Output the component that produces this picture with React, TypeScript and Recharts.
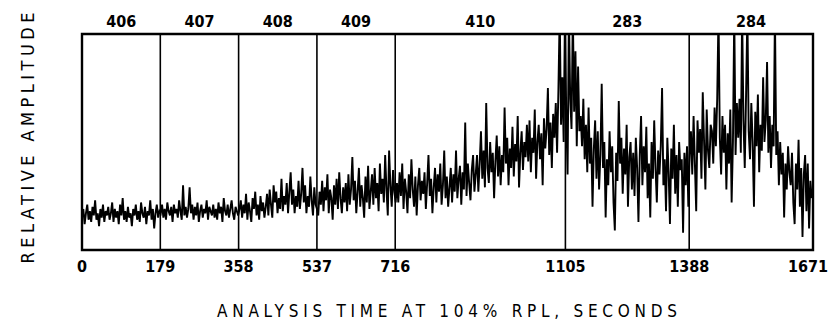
import { LineChart, Line, XAxis, YAxis, ReferenceLine, ReferenceArea } from "recharts";

// run boundaries (seconds) and the run numbers shown above each segment
const boundaries = [0, 179, 358, 537, 716, 1105, 1388, 1671];
const runs = ["406", "407", "408", "409", "410", "283", "284"];

// amplitude trace, one reading every 3 s (0-100 = bottom-top of box)
const sampleStep = 3;
const amplitude = [
  15, 19, 12, 17, 21, 14, 18, 13, 20, 16, 23, 14, 17, 11, 19, 15, 21, 13, 18, 16,
  20, 14, 17, 22, 13, 19, 15, 18, 12, 21, 16, 24, 14, 18, 13, 20, 15, 17, 11, 19,
  16, 21, 14, 18, 13, 22, 17, 15, 20, 12, 18, 16, 23, 14, 19, 10, 17, 21, 15, 18,
  17, 21, 15, 19, 14, 22, 18, 16, 20, 13, 21, 17, 19, 15, 23, 18, 14, 30, 16, 20,
  15, 19, 29, 17, 21, 14, 20, 16, 22, 13, 18, 21, 15, 19, 17, 23, 14, 20, 18, 16,
  21, 15, 19, 14, 22, 17, 20, 13, 24, 18, 16, 21, 15, 19, 23, 17, 14, 20, 18, 16,
  19, 23, 15, 21, 17, 26, 14, 22, 18, 13, 24, 19, 27, 16, 21, 14, 25, 18, 22, 15,
  20, 26, 16, 28, 21, 15, 30, 22, 27, 17, 24, 19, 33, 18, 25, 21, 31, 17, 27, 36,
  21, 28, 17, 25, 20, 32, 19, 26, 38, 22, 30, 17, 25, 20, 34, 23, 16, 29, 21, 19,
  16, 27, 21, 32, 18, 29, 23, 35, 17, 28, 24, 14, 30, 21, 33, 19, 36, 24, 17, 29,
  22, 31, 18, 35, 21, 28, 43, 23, 32, 17, 27, 38, 20, 30, 24, 15, 34, 22, 39, 19,
  27, 35, 21, 38, 24, 31, 18, 40, 26, 33, 22, 44, 28, 16, 46, 30, 20, 37, 27, 22,
  31, 22, 36, 25, 40, 19, 33, 27, 17, 35, 24, 42, 28, 20, 34, 16, 30, 38, 23, 32,
  26, 36, 19, 31, 44, 25, 33, 17, 29, 38, 22, 35, 27, 40, 21, 30, 46, 24, 34, 20,
  29, 38, 22, 35, 27, 46, 24, 33, 39, 21, 36, 28, 59, 25, 40, 31, 23, 37, 44, 27,
  35, 44, 27, 40, 55, 33, 46, 29, 68, 38, 31, 50, 36, 45, 24, 41, 53, 34, 48, 30,
  44, 36, 66, 40, 52, 30, 47, 38, 57, 34, 49, 41, 62, 29, 45, 55, 37, 50, 43, 58,
  41, 60, 36, 52, 45, 65, 33, 50, 58, 42, 54, 30, 61, 47, 56, 75, 44, 59, 38, 63,
  52, 68, 45, 74, 110, 58, 80, 50, 110, 62, 35, 110, 70, 56, 110, 64, 92, 48, 85, 55,
  62, 48, 70, 42, 58, 36, 66, 40, 52, 20, 47, 60, 33, 55, 28, 44, 77, 38, 50, 15,
  42, 30, 55, 36, 48, 22, 9, 45, 32, 69, 40, 52, 26, 47, 35, 58, 20, 43, 50, 28,
  45, 25, 52, 38, 13, 44, 62, 30, 48, 36, 57, 24, 40, 15, 50, 33, 60, 38, 22, 46,
  35, 48, 75, 30, 42, 18, 52, 36, 12, 47, 33, 58, 26, 44, 20, 50, 37, 42, 8, 45,
  30, 48, 20, 44, 55, 35, 62, 40, 18, 60, 45, 56, 33, 73, 50, 28, 65, 46, 38, 58,
  55, 40, 66, 48, 70, 110, 52, 35, 62, 45, 58, 28, 54, 40, 65, 22, 50, 110, 44, 68,
  52, 70, 45, 110, 60, 38, 72, 110, 55, 42, 68, 50, 20, 64, 48, 72, 36, 58, 46, 80,
  50, 60, 87, 45, 62, 38, 58, 48, 110, 44, 55, 30, 50, 35, 45, 15, 40, 28, 48, 36,
  30, 45, 22, 12, 40, 28, 51, 20, 38, 6, 35, 44, 18, 40, 10, 32, 24,
];

const data = amplitude.map((v, i) => ({ t: i * sampleStep, amp: v }));
const runCenters = runs.map((_, i) => (boundaries[i] + boundaries[i + 1]) / 2);

const font = "'DejaVu Sans Condensed', 'DejaVu Sans', sans-serif";
const tickStyle = { fontFamily: font, fontSize: 16, fontWeight: 700, fill: "#000" };

// bottom tick: the last label is pulled in so it stays inside the page
const TimeTick = (props: any) => {
  const { x, y, payload } = props;
  const last = payload.value === boundaries[boundaries.length - 1];
  return (
    <text x={last ? x + 15 : x} y={y} dy="0.71em" textAnchor={last ? "end" : "middle"} {...tickStyle}>
      {payload.value}
    </text>
  );
};

function App() {
  return (
    <LineChart width={820} height={314} data={data} margin={{ top: 0, right: 15, bottom: 0, left: 74 }}>
      <XAxis
        xAxisId="top"
        orientation="top"
        type="number"
        dataKey="t"
        domain={[0, 1671]}
        ticks={runCenters}
        tickFormatter={(v: number) => runs[runCenters.indexOf(v)]}
        height={26}
        tickLine={false}
        axisLine={false}
        tickSize={0}
        tickMargin={7}
        tick={tickStyle}
        interval={0}
      />
      <XAxis
        type="number"
        dataKey="t"
        domain={[0, 1671]}
        ticks={boundaries}
        height={72}
        tickLine={false}
        axisLine={false}
        tickSize={0}
        tickMargin={11}
        tick={<TimeTick />}
        interval={0}
        label={{
          content: () => (
            <g>
              <text x={439} y={309} textAnchor="middle" textLength={460} lengthAdjust="spacing"
                fontFamily={font} fontSize={17} fill="#000">
                ANALYSIS TIME AT 104% RPL, SECONDS
              </text>
              <text x={0} y={0} transform="translate(26,130) rotate(-90)" textAnchor="middle"
                textLength={251} lengthAdjust="spacing" fontFamily={font} fontSize={18} fill="#000">
                RELATIVE AMPLITUDE
              </text>
            </g>
          ),
        }}
      />
      <YAxis type="number" domain={[0, 100]} allowDataOverflow hide />
      {boundaries.slice(1, -1).map((b) => (
        <ReferenceLine key={b} x={b} stroke="#000" strokeWidth={1.6} />
      ))}
      <Line
        type="linear"
        dataKey="amp"
        stroke="#000"
        strokeWidth={1.9}
        strokeLinejoin="miter"
        dot={false}
        isAnimationActive={false}
      />
      <ReferenceArea x1={0} x2={1671} y1={0} y2={100} fill="none" stroke="#000" strokeWidth={2.4} fillOpacity={0} />
    </LineChart>
  );
}

export default App;
